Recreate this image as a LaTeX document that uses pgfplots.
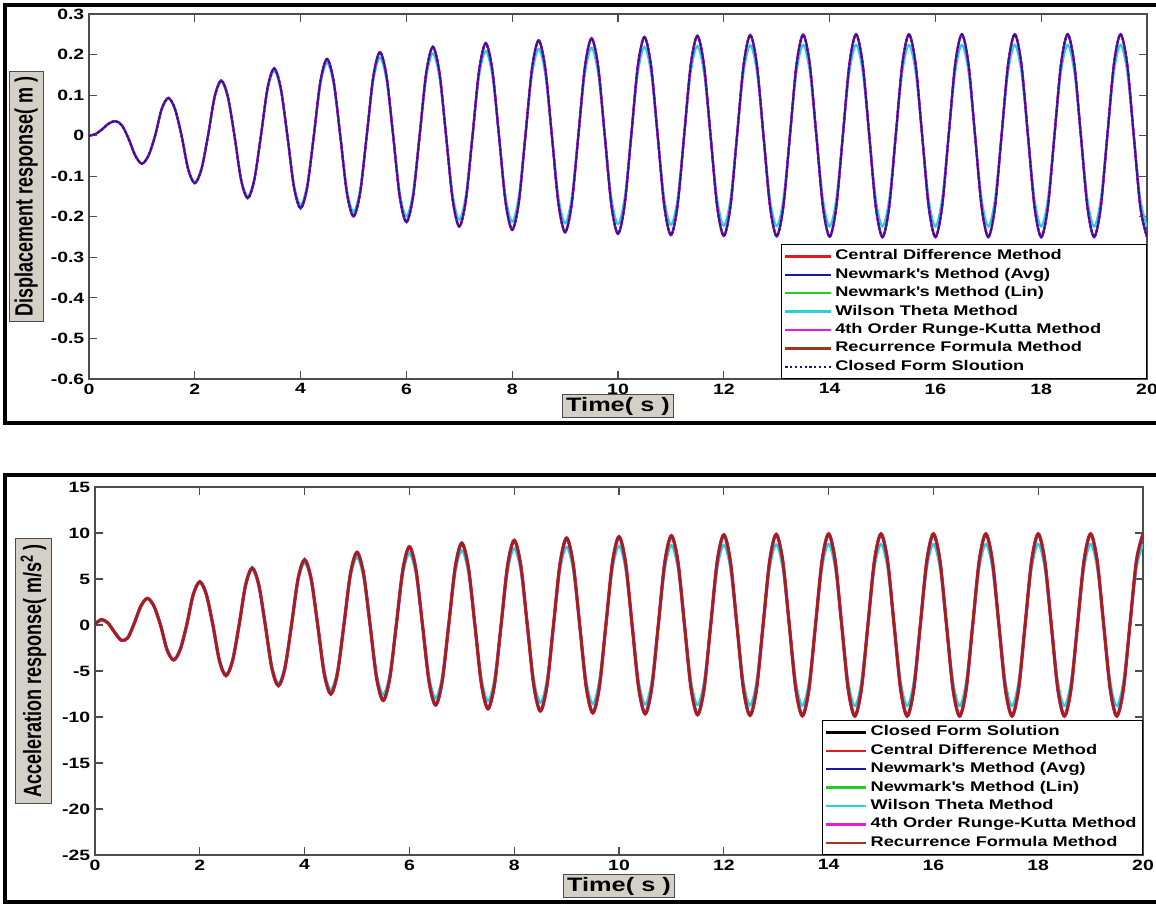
\documentclass[border=0pt]{standalone}
\usepackage{pgfplots}
\pgfplotsset{compat=1.18}
\usepackage{pgfplotstable}
\usepackage{fontspec}
\setmainfont{Liberation Sans}
\newfontfamily\widefont{Liberation Sans}[FakeStretch=1.3]
\newfontfamily\narrowfont{Liberation Sans}[FakeStretch=0.72]
\newcommand\tickfont{\widefont\bfseries\fontsize{11.2}{12}\selectfont}
\newcommand\legfont{\widefont\bfseries\fontsize{10.5}{12}\selectfont}
\newcommand\xlabfont{\widefont\bfseries\fontsize{14.6}{16}\selectfont}
\newcommand\ylabfont{\narrowfont\bfseries\fontsize{18.75}{20}\selectfont}
\newcommand\topentry[1]{\makebox[229pt][l]{#1}}

\definecolor{labgray}{RGB}{212,208,200}
\definecolor{cdm}{rgb}{0.9,0.1,0.1}
\definecolor{nma}{rgb}{0.1,0.1,0.62}
\definecolor{nml}{rgb}{0.15,0.8,0.15}
\definecolor{wil}{rgb}{0.15,0.82,0.85}
\definecolor{rk}{rgb}{0.9,0.1,0.9}
\definecolor{rec}{rgb}{0.62,0.22,0.1}
\definecolor{cfs}{rgb}{0.12,0.1,0.42}

% t, displacement, displacement (Wilson), acceleration, acceleration (Wilson)
\pgfplotstableread{
t x xw a aw
0 0 0 0.1 0.1
0.125 0.004 0.004 0.6 0.6
0.25 0.016 0.016 0.2 0.2
0.375 0.030 0.030 -0.8 -0.8
0.5 0.036 0.036 -1.65 -1.65
0.625 0.025 0.025 -1.4 -1.4
0.75 -0.008 -0.008 0.2 0.2
0.875 -0.049 -0.049 2.05 2.05
1 -0.069 -0.069 2.9 2.9
1.125 -0.049 -0.049 2.05 2.05
1.25 0 0 0 0
1.375 0.066 0.065 -2.69 -2.65
1.5 0.093 0.092 -3.8 -3.75
1.625 0.066 0.065 -2.69 -2.65
1.75 0 0 0 0
1.875 -0.083 -0.081 3.32 3.25
2 -0.117 -0.115 4.7 4.6
2.125 -0.083 -0.081 3.32 3.25
2.25 0 0 0 0
2.375 0.096 0.094 -3.89 -3.78
2.5 0.136 0.133 -5.5 -5.35
2.625 0.096 0.094 -3.89 -3.78
2.75 0 0 0 0
2.875 -0.109 -0.106 4.38 4.24
3 -0.154 -0.150 6.2 6.0
3.125 -0.109 -0.106 4.38 4.24
3.25 0 0 0 0
3.375 0.117 0.113 -4.67 -4.49
3.5 0.166 0.160 -6.6 -6.35
3.625 0.117 0.113 -4.67 -4.49
3.75 0 0 0 0
3.875 -0.127 -0.121 5.02 4.77
4 -0.179 -0.171 7.1 6.75
4.125 -0.127 -0.121 5.02 4.77
4.25 0 0 0 0
4.375 0.134 0.127 -5.30 -4.98
4.5 0.189 0.180 -7.5 -7.05
4.625 0.134 0.127 -5.30 -4.98
4.75 0 0 0 0
4.875 -0.141 -0.133 5.59 5.20
5 -0.199 -0.188 7.9 7.35
5.125 -0.141 -0.133 5.59 5.20
5.25 0 0 0 0
5.375 0.146 0.136 -5.80 -5.34
5.5 0.206 0.193 -8.2 -7.55
5.625 0.146 0.136 -5.80 -5.34
5.75 0 0 0 0
5.875 -0.151 -0.141 6.01 5.51
6 -0.213 -0.199 8.5 7.8
6.125 -0.151 -0.141 6.01 5.51
6.25 0 0 0 0
6.375 0.155 0.144 -6.15 -5.62
6.5 0.219 0.203 -8.7 -7.95
6.625 0.155 0.144 -6.15 -5.62
6.75 0 0 0 0
6.875 -0.158 -0.146 6.29 5.73
7 -0.224 -0.207 8.9 8.1
7.125 -0.158 -0.146 6.29 5.73
7.25 0 0 0 0
7.375 0.161 0.148 -6.43 -5.83
7.5 0.228 0.209 -9.1 -8.25
7.625 0.161 0.148 -6.43 -5.83
7.75 0 0 0 0
7.875 -0.164 -0.150 6.50 5.89
8 -0.232 -0.212 9.2 8.33
8.125 -0.164 -0.150 6.50 5.89
8.25 0 0 0 0
8.375 0.166 0.151 -6.61 -5.96
8.5 0.235 0.214 -9.35 -8.43
8.625 0.166 0.151 -6.61 -5.96
8.75 0 0 0 0
8.875 -0.168 -0.153 6.68 6.01
9 -0.238 -0.216 9.45 8.5
9.125 -0.168 -0.153 6.68 6.01
9.25 0 0 0 0
9.375 0.170 0.153 -6.75 -6.06
9.5 0.240 0.217 -9.55 -8.57
9.625 0.170 0.153 -6.75 -6.06
9.75 0 0 0 0
9.875 -0.171 -0.154 6.79 6.08
10 -0.242 -0.218 9.6 8.6
10.125 -0.171 -0.154 6.79 6.08
10.25 0 0 0 0
10.375 0.172 0.155 -6.82 -6.11
10.5 0.243 0.219 -9.65 -8.64
10.625 0.172 0.155 -6.82 -6.11
10.75 0 0 0 0
10.875 -0.173 -0.156 6.86 6.13
11 -0.245 -0.220 9.7 8.67
11.125 -0.173 -0.156 6.86 6.13
11.25 0 0 0 0
11.375 0.174 0.156 -6.89 -6.15
11.5 0.246 0.221 -9.75 -8.7
11.625 0.174 0.156 -6.89 -6.15
11.75 0 0 0 0
11.875 -0.175 -0.157 6.93 6.17
12 -0.247 -0.222 9.8 8.72
12.125 -0.175 -0.157 6.93 6.17
12.25 0 0 0 0
12.375 0.175 0.158 -6.94 -6.18
12.5 0.248 0.223 -9.82 -8.74
12.625 0.175 0.158 -6.94 -6.18
12.75 0 0 0 0
12.875 -0.175 -0.158 6.96 6.19
13 -0.248 -0.223 9.85 8.76
13.125 -0.175 -0.158 6.96 6.19
13.25 0 0 0 0
13.375 0.176 0.158 -6.98 -6.20
13.5 0.249 0.224 -9.87 -8.77
13.625 0.176 0.158 -6.98 -6.20
13.75 0 0 0 0
13.875 -0.176 -0.158 7.00 6.22
14 -0.249 -0.224 9.9 8.8
14.125 -0.177 -0.158 7.00 6.22
14.25 0 0 0 0
14.375 0.177 0.158 -7.00 -6.22
14.5 0.25 0.224 -9.9 -8.8
14.625 0.177 0.158 -7.00 -6.22
14.75 0 0 0 0
14.875 -0.177 -0.158 7.00 6.22
15 -0.25 -0.224 9.9 8.8
15.125 -0.177 -0.158 7.00 6.22
15.25 0 0 0 0
15.375 0.177 0.158 -7.00 -6.22
15.5 0.25 0.224 -9.9 -8.8
15.625 0.177 0.158 -7.00 -6.22
15.75 0 0 0 0
15.875 -0.177 -0.158 7.00 6.22
16 -0.25 -0.224 9.9 8.8
16.125 -0.177 -0.158 7.00 6.22
16.25 0 0 0 0
16.375 0.177 0.158 -7.00 -6.22
16.5 0.25 0.224 -9.9 -8.8
16.625 0.177 0.158 -7.00 -6.22
16.75 0 0 0 0
16.875 -0.177 -0.158 7.00 6.22
17 -0.25 -0.224 9.9 8.8
17.125 -0.177 -0.158 7.00 6.22
17.25 0 0 0 0
17.375 0.177 0.158 -7.00 -6.22
17.5 0.25 0.224 -9.9 -8.8
17.625 0.177 0.158 -7.00 -6.22
17.75 0 0 0 0
17.875 -0.177 -0.158 7.00 6.22
18 -0.25 -0.224 9.9 8.8
18.125 -0.177 -0.158 7.00 6.22
18.25 0 0 0 0
18.375 0.177 0.158 -7.00 -6.22
18.5 0.25 0.224 -9.9 -8.8
18.625 0.177 0.158 -7.00 -6.22
18.75 0 0 0 0
18.875 -0.177 -0.158 7.00 6.22
19 -0.25 -0.224 9.9 8.8
19.125 -0.177 -0.158 7.00 6.22
19.25 0 0 0 0
19.375 0.177 0.158 -7.00 -6.22
19.5 0.25 0.224 -9.9 -8.8
19.625 0.177 0.158 -7.00 -6.22
19.75 0 0 0 0
19.875 -0.177 -0.158 7.00 6.22
20 -0.25 -0.224 9.9 8.8
}\datatab

\pgfplotsset{
  panel/.style={
    scale only axis,
    xmin=0, xmax=20,
    xtick={0,2,...,20},
    xticklabels={0,2,4,6,8,10,12,14,16,18,20},
    tick label style={font=\tickfont, black},
    axis line style={draw=black!70, line width=0.8pt},
    major tick style={draw=black!70, line width=0.8pt},
    major tick length=6pt,
    xlabel style={font=\xlabfont, draw=black!70, fill=labgray, line width=0.6pt,
      inner xsep=3pt, inner ysep=2pt, anchor=center},
    ylabel style={font=\ylabfont, draw=black!70, fill=labgray, line width=0.6pt,
      inner xsep=4pt, inner ysep=4pt, anchor=center},
    legend cell align=left,
    legend style={at={(1,0)}, anchor=south east, draw=black, line width=0.6pt,
      font=\legfont, fill=white, inner sep=2pt,
      nodes={text height=8pt, text depth=2.6pt, inner ysep=1.6pt, inner xsep=2.5pt}},
  }
}

\begin{document}
\begin{tikzpicture}
\useasboundingbox (0pt,-677.25pt) rectangle (867pt,0pt);
\draw[line width=3pt, black] (3.75pt,-3.75pt) rectangle (875pt,-317.25pt);
\draw[line width=3pt, black] (3.75pt,-356.25pt) rectangle (875pt,-676.5pt);

\begin{axis}[panel,
  at={(66.75pt,-284.25pt)}, anchor=south west,
  width=793.5pt, height=273.75pt,
  ymin=-0.6, ymax=0.3,
  ytick={-0.6,-0.5,-0.4,-0.3,-0.2,-0.1,0,0.1,0.2,0.3},
  yticklabels={-0.6,-0.5,-0.4,-0.3,-0.2,-0.1,0,0.1,0.2,0.3},
  xlabel={Time( s )},
  xlabel style={at={(axis description cs:0.5,-0.074)}},
  ylabel={Displacement response( m )},
  ylabel style={at={(axis description cs:-0.0595,0.5)}},
  legend image code/.code={\draw[#1] (0pt,0pt) -- (34pt,0pt);},
]
\addlegendimage{cdm, line width=1.8pt}
\addlegendentry{\topentry{Central Difference Method}}
\addlegendimage{nma, line width=1.8pt}
\addlegendentry{\topentry{Newmark\textquotesingle s Method (Avg)}}
\addlegendimage{nml, line width=1.8pt}
\addlegendentry{\topentry{Newmark\textquotesingle s Method (Lin)}}
\addlegendimage{wil, line width=1.8pt}
\addlegendentry{\topentry{Wilson Theta Method}}
\addlegendimage{rk, line width=1.8pt}
\addlegendentry{\topentry{4th Order Runge-Kutta Method}}
\addlegendimage{rec, line width=1.8pt}
\addlegendentry{\topentry{Recurrence Formula Method}}
\addlegendimage{cfs, line width=1.6pt, dotted}
\addlegendentry{\topentry{Closed Form Sloution}}

\addplot[forget plot, smooth, cdm, line width=1.4pt] table[x=t, y=x] {\datatab};
\addplot[forget plot, smooth, nml, line width=1.4pt] table[x=t, y=x] {\datatab};
\addplot[forget plot, smooth, rec, line width=1.4pt] table[x=t, y=x] {\datatab};
\addplot[forget plot, smooth, wil, line width=1.6pt] table[x=t, y=xw] {\datatab};
\addplot[forget plot, smooth, rk, line width=1.9pt] table[x=t, y=x] {\datatab};
\addplot[forget plot, smooth, nma, line width=1.3pt, opacity=0.8] table[x=t, y=x] {\datatab};
\addplot[forget plot, smooth, cfs, line width=1.4pt, dotted] table[x=t, y=x] {\datatab};
\end{axis}

\begin{axis}[panel,
  at={(71.25pt,-641.25pt)}, anchor=south west,
  width=786pt, height=276pt,
  ymin=-25, ymax=15,
  ytick={-25,-20,-15,-10,-5,0,5,10,15},
  yticklabels={-25,-20,-15,-10,-5,0,5,10,15},
  xlabel={Time( s )},
  xlabel style={at={(axis description cs:0.5,-0.0842)}},
  ylabel={Acceleration response( m/s\textsuperscript{2} )},
  ylabel style={at={(axis description cs:-0.0587,0.5)}},
  legend image code/.code={\draw[#1] (0pt,0pt) -- (30pt,0pt);},
]
\addlegendimage{black, line width=1.8pt}
\addlegendentry{Closed Form Solution}
\addlegendimage{cdm, line width=1.8pt}
\addlegendentry{Central Difference Method}
\addlegendimage{nma, line width=1.8pt}
\addlegendentry{Newmark\textquotesingle s Method (Avg)}
\addlegendimage{nml, line width=1.8pt}
\addlegendentry{Newmark\textquotesingle s Method (Lin)}
\addlegendimage{wil, line width=1.8pt}
\addlegendentry{Wilson Theta Method}
\addlegendimage{rk, line width=1.8pt}
\addlegendentry{4th Order Runge-Kutta Method}
\addlegendimage{rec, line width=1.8pt}
\addlegendentry{Recurrence Formula Method}

\addplot[forget plot, smooth, black, line width=1.6pt] table[x=t, y=a] {\datatab};
\addplot[forget plot, smooth, nma, line width=1.6pt] table[x=t, y=a] {\datatab};
\addplot[forget plot, smooth, nml, line width=1.6pt] table[x=t, y=a] {\datatab};
\addplot[forget plot, smooth, wil, line width=1.8pt] table[x=t, y=aw] {\datatab};
\addplot[forget plot, smooth, rk, line width=2.5pt] table[x=t, y=a] {\datatab};
\addplot[forget plot, smooth, cdm, line width=2pt] table[x=t, y=a] {\datatab};
\addplot[forget plot, smooth, rec!80!black, line width=1.9pt, opacity=0.75] table[x=t, y=a] {\datatab};
\end{axis}
\end{tikzpicture}
\end{document}
